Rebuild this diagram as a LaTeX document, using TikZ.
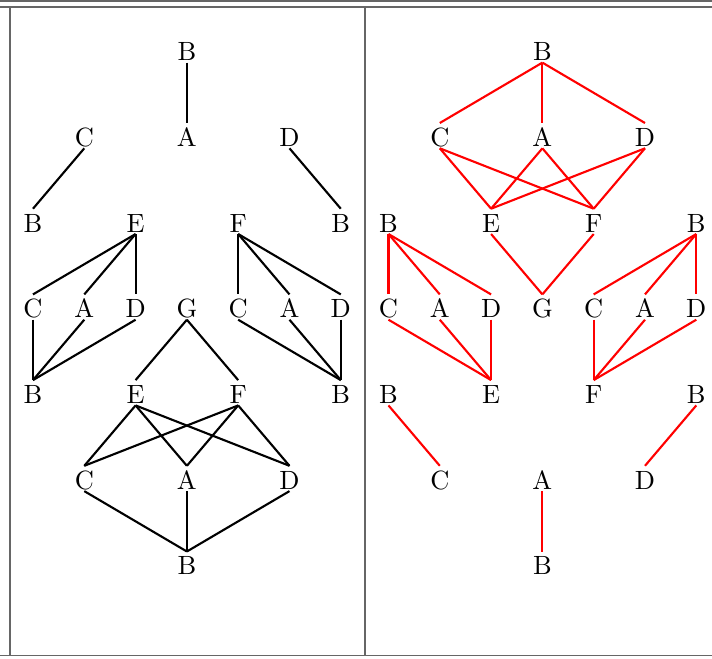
\documentclass[tikz,border=0pt]{standalone}
\usepackage{xcolor}
\usepackage{tikz}
\definecolor{rulegray}{rgb}{0.40, 0.40, 0.40}

\begin{document}
\begin{tikzpicture}[
  x=0.683cm, y=-1.141cm,
  vtx/.style={inner sep=0.5pt, text height=1.9ex, text depth=0pt},
  blackline/.style={line width=0.8pt, color=black},
  redline/.style={line width=0.8pt, color=red},
  tablerule/.style={line width=0.65pt, color=rulegray}
]
  \useasboundingbox (-0.643,-0.583) rectangle (13.236,7.106);

  % Table rules
  \draw[tablerule] (-0.643,-0.574) -- (13.236,-0.574);
  \draw[tablerule] (-0.643,-0.505) -- (13.236,-0.505);
  \draw[tablerule] (-0.643,7.064) -- (13.236,7.064);
  \draw[tablerule] (-0.454,-0.505) -- (-0.454,7.064);
  \draw[tablerule] (6.468,-0.505) -- (6.468,7.064);

  % Vertices, same layout in both halves
  \foreach \side/\shift in {l/0, r/6.93}{
    \foreach \name/\col/\row/\lbl in {
      B0/3/0/B, C1/1/1/C, A1/3/1/A, D1/5/1/D,
      B2a/0/2/B, E2/2/2/E, F2/4/2/F, B2b/6/2/B,
      C3a/0/3/C, A3a/1/3/A, D3a/2/3/D, G3/3/3/G, C3b/4/3/C, A3b/5/3/A, D3b/6/3/D,
      B4a/0/4/B, E4/2/4/E, F4/4/4/F, B4b/6/4/B,
      C5/1/5/C, A5/3/5/A, D5/5/5/D,
      B6/3/6/B}
      \node[vtx] (\side\name) at (\col+\shift,\row) {\lbl};
  }

  % Left half (black)
  \draw[blackline] (lB0.south) -- (lA1.north);
  \draw[blackline] (lC1.south) -- (lB2a.north);
  \draw[blackline] (lD1.south) -- (lB2b.north);
  \foreach \v in {C3a, A3a, D3a}{
    \draw[blackline] (lE2.south) -- (l\v.north);
    \draw[blackline] (l\v.south) -- (lB4a.north);
  }
  \foreach \v in {C3b, A3b, D3b}{
    \draw[blackline] (lF2.south) -- (l\v.north);
    \draw[blackline] (l\v.south) -- (lB4b.north);
  }
  \draw[blackline] (lG3.south) -- (lE4.north);
  \draw[blackline] (lG3.south) -- (lF4.north);
  \foreach \v in {C5, A5, D5}{
    \draw[blackline] (lE4.south) -- (l\v.north);
    \draw[blackline] (lF4.south) -- (l\v.north);
    \draw[blackline] (l\v.south) -- (lB6.north);
  }

  % Right half (red)
  \foreach \v in {C1, A1, D1}{
    \draw[redline] (rB0.south) -- (r\v.north);
    \draw[redline] (r\v.south) -- (rE2.north);
    \draw[redline] (r\v.south) -- (rF2.north);
  }
  \draw[redline] (rE2.south) -- (rG3.north);
  \draw[redline] (rF2.south) -- (rG3.north);
  \foreach \v in {C3a, A3a, D3a}{
    \draw[redline] (rB2a.south) -- (r\v.north);
    \draw[redline] (r\v.south) -- (rE4.north);
  }
  \foreach \v in {C3b, A3b, D3b}{
    \draw[redline] (rB2b.south) -- (r\v.north);
    \draw[redline] (r\v.south) -- (rF4.north);
  }
  \draw[redline] (rB4a.south) -- (rC5.north);
  \draw[redline] (rB4b.south) -- (rD5.north);
  \draw[redline] (rA5.south) -- (rB6.north);
\end{tikzpicture}
\end{document}
